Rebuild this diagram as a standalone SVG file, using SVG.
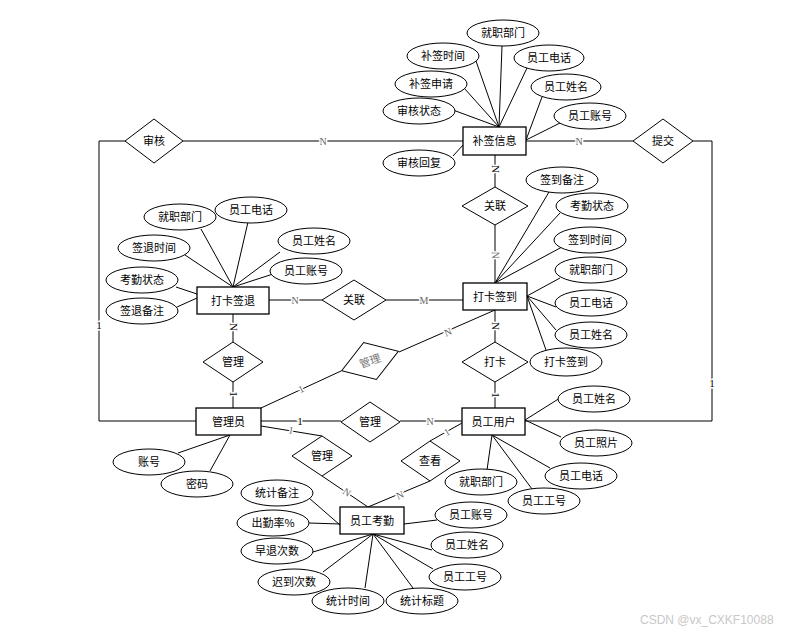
<svg xmlns="http://www.w3.org/2000/svg" width="797" height="634" viewBox="0 0 797 634">
<style>
.e{fill:#fff;stroke:#000;stroke-width:1}
.r{fill:#fff;stroke:#000;stroke-width:1.3}
.d{fill:#fff;stroke:#000;stroke-width:1}
.c line,.c path{stroke:#000;stroke-width:1;fill:none}
text{font-family:"Noto Sans CJK SC","Noto Sans",sans-serif;font-size:11px;fill:#000;text-anchor:middle}
.l{font-family:"Liberation Serif",serif;font-size:10px;fill:#666;paint-order:stroke;stroke:#fff;stroke-width:3px}
.k{fill:#000;font-size:11px}
.g{fill:#777}
.w{font-family:"Liberation Sans",sans-serif;font-size:12px;fill:#c8c8c8;text-anchor:start}
</style>
<rect width="797" height="634" fill="#fff"/>
<g id="connectors" class="c">
<path d="M125 141H99V421H196"/>
<line x1="183" y1="141" x2="463" y2="141"/>
<line x1="526" y1="141" x2="633" y2="141"/>
<path d="M693 141H712V421H525"/>
<line x1="495" y1="155" x2="495" y2="187"/>
<line x1="495" y1="225" x2="495" y2="283"/>
<line x1="269" y1="300" x2="322" y2="300"/>
<line x1="386" y1="300" x2="463" y2="300"/>
<line x1="233" y1="314" x2="233" y2="342"/>
<line x1="233" y1="382" x2="233" y2="408"/>
<line x1="261" y1="408" x2="341" y2="371"/>
<line x1="399" y1="352" x2="495" y2="310"/>
<line x1="495" y1="310" x2="495" y2="342"/>
<line x1="495" y1="382" x2="495" y2="408"/>
<line x1="261" y1="421" x2="341" y2="421"/>
<line x1="400" y1="421" x2="462" y2="421"/>
<line x1="261" y1="426" x2="322" y2="436"/>
<line x1="322" y1="476" x2="368" y2="507"/>
<line x1="430" y1="441" x2="462" y2="423"/>
<line x1="430" y1="481" x2="368" y2="507"/>
<line x1="502" y1="46" x2="499" y2="127"/>
<line x1="476" y1="61" x2="499" y2="127"/>
<line x1="464" y1="88" x2="499" y2="127"/>
<line x1="453" y1="110" x2="499" y2="127"/>
<line x1="527" y1="68" x2="499" y2="127"/>
<line x1="542" y1="97" x2="526" y2="140"/>
<line x1="560" y1="123" x2="526" y2="140"/>
<line x1="453" y1="156" x2="463" y2="145"/>
<line x1="201" y1="229" x2="233" y2="287"/>
<line x1="248" y1="222" x2="233" y2="287"/>
<line x1="185" y1="255" x2="233" y2="287"/>
<line x1="280" y1="252" x2="233" y2="287"/>
<line x1="273" y1="274" x2="233" y2="287"/>
<line x1="176" y1="287" x2="197" y2="294"/>
<line x1="177" y1="307" x2="197" y2="298"/>
<line x1="549" y1="192" x2="495" y2="283"/>
<line x1="560" y1="213" x2="495" y2="283"/>
<line x1="562" y1="247" x2="495" y2="283"/>
<line x1="560" y1="278" x2="527" y2="296"/>
<line x1="556" y1="307" x2="527" y2="296"/>
<line x1="556" y1="330" x2="527" y2="296"/>
<line x1="546" y1="350" x2="527" y2="296"/>
<line x1="178" y1="453" x2="230" y2="435"/>
<line x1="210" y1="471" x2="230" y2="435"/>
<line x1="560" y1="398" x2="525" y2="420"/>
<line x1="561" y1="437" x2="525" y2="420"/>
<line x1="550" y1="468" x2="492" y2="435"/>
<line x1="532" y1="489" x2="492" y2="435"/>
<line x1="487" y1="470" x2="492" y2="435"/>
<line x1="309" y1="498" x2="340" y2="525"/>
<line x1="309" y1="523" x2="340" y2="524"/>
<line x1="313" y1="552" x2="373" y2="534"/>
<line x1="323" y1="572" x2="373" y2="534"/>
<line x1="365" y1="588" x2="373" y2="534"/>
<line x1="413" y1="588" x2="373" y2="534"/>
<line x1="433" y1="569" x2="373" y2="534"/>
<line x1="432" y1="550" x2="373" y2="534"/>
<line x1="437" y1="520" x2="404" y2="524"/>
<text class="l k" x="99" y="329">1</text>
<text class="l" x="323" y="145">N</text>
<text class="l" x="579" y="145">N</text>
<text class="l k" x="712" y="387">1</text>
<text class="l k" transform="translate(495 169) rotate(90)" y="3.5">N</text>
<text class="l" transform="translate(495 255) rotate(90)" y="3.5">N</text>
<text class="l" x="295" y="304">N</text>
<text class="l" x="424" y="304">M</text>
<text class="l k" transform="translate(233 327) rotate(90)" y="3.5">N</text>
<text class="l k" transform="translate(233 394) rotate(90)" y="3.5">1</text>
<text class="l" transform="translate(301 389) rotate(-25)" y="3.5">1</text>
<text class="l" transform="translate(448 332) rotate(-23)" y="3.5">N</text>
<text class="l k" transform="translate(495 326) rotate(90)" y="3.5">N</text>
<text class="l k" transform="translate(495 395) rotate(90)" y="3.5">1</text>
<text class="l k" x="300" y="425">1</text>
<text class="l" x="430" y="425">N</text>
<text class="l" transform="translate(291 430) rotate(10)" y="3.5">1</text>
<text class="l" transform="translate(347 492) rotate(34)" y="3.5">N</text>
<text class="l" transform="translate(447 432) rotate(-30)" y="3.5">1</text>
<text class="l" transform="translate(400 495) rotate(-23)" y="3.5">N</text>
</g>
<g id="n-bqxx"><rect class="r" x="463" y="127" width="63" height="28"/><text x="494.5" y="145">补签信息</text></g>
<g id="a-bq-1"><ellipse class="e" cx="503" cy="33" rx="36" ry="13"/><text x="503" y="37">就职部门</text></g>
<g id="a-bq-2"><ellipse class="e" cx="443" cy="56" rx="36" ry="13"/><text x="443" y="60">补签时间</text></g>
<g id="a-bq-3"><ellipse class="e" cx="549" cy="58" rx="35" ry="13"/><text x="549" y="62">员工电话</text></g>
<g id="a-bq-4"><ellipse class="e" cx="431" cy="84" rx="36" ry="13"/><text x="431" y="88">补签申请</text></g>
<g id="a-bq-5"><ellipse class="e" cx="566" cy="87" rx="35" ry="13"/><text x="566" y="91">员工姓名</text></g>
<g id="a-bq-6"><ellipse class="e" cx="419" cy="111" rx="36" ry="13"/><text x="419" y="115">审核状态</text></g>
<g id="a-bq-7"><ellipse class="e" cx="590" cy="116" rx="36" ry="13"/><text x="590" y="120">员工账号</text></g>
<g id="a-bq-8"><ellipse class="e" cx="419" cy="163" rx="36" ry="13"/><text x="419" y="167">审核回复</text></g>

<g id="r-sh"><polygon class="d" points="125,141 154,119 183,141 154,163"/><text x="154" y="145">审核</text></g>
<g id="r-tj"><polygon class="d" points="633,141 663,119 693,141 663,163"/><text x="663" y="145">提交</text></g>
<g id="r-gl1"><polygon class="d" points="462,206 495,187 528,206 495,225"/><text x="495" y="210">关联</text></g>
<g id="r-gl2"><polygon class="d" points="322,300 354,280 386,300 354,320"/><text x="354" y="304">关联</text></g>
<g id="r-gl3"><polygon class="d" points="203,362 233,342 263,362 233,382"/><text x="233" y="366">管理</text></g>
<g id="r-gl4" transform="translate(370 361) rotate(-19)"><polygon class="d" points="-30,0 0,-19.5 30,0 0,19.5"/><text class="g" x="0" y="4">管理</text></g>
<g id="r-gl5"><polygon class="d" points="341,422 370,402 400,422 370,442"/><text x="370" y="426">管理</text></g>
<g id="r-dk"><polygon class="d" points="462,362 495,342 528,362 495,382"/><text x="495" y="366">打卡</text></g>
<g id="r-ck"><polygon class="d" points="401,461 430,441 460,461 430,481"/><text x="430" y="465">查看</text></g>
<g id="r-gl6"><polygon class="d" points="292,456 322,436 352,456 322,476"/><text x="322" y="460">管理</text></g>

<g id="n-dkqt"><rect class="r" x="197" y="287" width="72" height="27"/><text x="233" y="305">打卡签退</text></g>
<g id="a-qt-1"><ellipse class="e" cx="180" cy="217" rx="36" ry="13"/><text x="180" y="221">就职部门</text></g>
<g id="a-qt-2"><ellipse class="e" cx="251" cy="210" rx="36" ry="13"/><text x="251" y="214">员工电话</text></g>
<g id="a-qt-3"><ellipse class="e" cx="154" cy="248" rx="36" ry="13"/><text x="154" y="252">签退时间</text></g>
<g id="a-qt-4"><ellipse class="e" cx="314" cy="241" rx="36" ry="13"/><text x="314" y="245">员工姓名</text></g>
<g id="a-qt-5"><ellipse class="e" cx="306" cy="271" rx="36" ry="13"/><text x="306" y="275">员工账号</text></g>
<g id="a-qt-6"><ellipse class="e" cx="142" cy="280" rx="36" ry="13"/><text x="142" y="284">考勤状态</text></g>
<g id="a-qt-7"><ellipse class="e" cx="142" cy="311" rx="36" ry="13"/><text x="142" y="315">签退备注</text></g>

<g id="n-dkqd"><rect class="r" x="463" y="283" width="64" height="27"/><text x="495" y="301">打卡签到</text></g>
<g id="a-qd-1"><ellipse class="e" cx="562" cy="180" rx="36" ry="13"/><text x="562" y="184">签到备注</text></g>
<g id="a-qd-2"><ellipse class="e" cx="592" cy="206" rx="36" ry="13"/><text x="592" y="210">考勤状态</text></g>
<g id="a-qd-3"><ellipse class="e" cx="590" cy="240" rx="36" ry="13"/><text x="590" y="244">签到时间</text></g>
<g id="a-qd-4"><ellipse class="e" cx="591" cy="270" rx="36" ry="13"/><text x="591" y="274">就职部门</text></g>
<g id="a-qd-5"><ellipse class="e" cx="591" cy="303" rx="36" ry="13"/><text x="591" y="307">员工电话</text></g>
<g id="a-qd-6"><ellipse class="e" cx="591" cy="335" rx="36" ry="13"/><text x="591" y="339">员工姓名</text></g>
<g id="a-qd-7"><ellipse class="e" cx="566" cy="362" rx="36" ry="14"/><text x="566" y="366">打卡签到</text></g>

<g id="n-gly"><rect class="r" x="196" y="408" width="65" height="27"/><text x="228.5" y="426">管理员</text></g>
<g id="a-gly-1"><ellipse class="e" cx="149" cy="462" rx="36" ry="13"/><text x="149" y="466">账号</text></g>
<g id="a-gly-2"><ellipse class="e" cx="197" cy="484" rx="36" ry="13"/><text x="197" y="488">密码</text></g>

<g id="n-yhyh"><rect class="r" x="462" y="408" width="63" height="27"/><text x="493.5" y="426">员工用户</text></g>
<g id="a-yh-1"><ellipse class="e" cx="594" cy="399" rx="36" ry="13"/><text x="594" y="403">员工姓名</text></g>
<g id="a-yh-2"><ellipse class="e" cx="596" cy="443" rx="36" ry="13"/><text x="596" y="447">员工照片</text></g>
<g id="a-yh-3"><ellipse class="e" cx="581" cy="476" rx="36" ry="13"/><text x="581" y="480">员工电话</text></g>
<g id="a-yh-4"><ellipse class="e" cx="544" cy="501" rx="36" ry="13"/><text x="544" y="505">员工工号</text></g>
<g id="a-yh-5"><ellipse class="e" cx="481" cy="482" rx="36" ry="13"/><text x="481" y="486">就职部门</text></g>

<g id="n-yhkq"><rect class="r" x="340" y="507" width="64" height="27"/><text x="372" y="525">员工考勤</text></g>
<g id="a-kq-1"><ellipse class="e" cx="277" cy="493" rx="36" ry="13"/><text x="277" y="497">统计备注</text></g>
<g id="a-kq-2"><ellipse class="e" cx="273" cy="523" rx="36" ry="13"/><text x="273" y="527">出勤率%</text></g>
<g id="a-kq-3"><ellipse class="e" cx="277" cy="551" rx="36" ry="13"/><text x="277" y="555">早退次数</text></g>
<g id="a-kq-4"><ellipse class="e" cx="294" cy="582" rx="36" ry="13"/><text x="294" y="586">迟到次数</text></g>
<g id="a-kq-5"><ellipse class="e" cx="348" cy="601" rx="36" ry="13"/><text x="348" y="605">统计时间</text></g>
<g id="a-kq-6"><ellipse class="e" cx="422" cy="601" rx="36" ry="13"/><text x="422" y="605">统计标题</text></g>
<g id="a-kq-7"><ellipse class="e" cx="465" cy="577" rx="36" ry="13"/><text x="465" y="581">员工工号</text></g>
<g id="a-kq-8"><ellipse class="e" cx="467" cy="545" rx="36" ry="13"/><text x="467" y="549">员工姓名</text></g>
<g id="a-kq-9"><ellipse class="e" cx="471" cy="515" rx="36" ry="13"/><text x="471" y="519">员工账号</text></g>

<text class="w" x="640" y="624">CSDN @vx_CXKF10088</text>
</svg>
